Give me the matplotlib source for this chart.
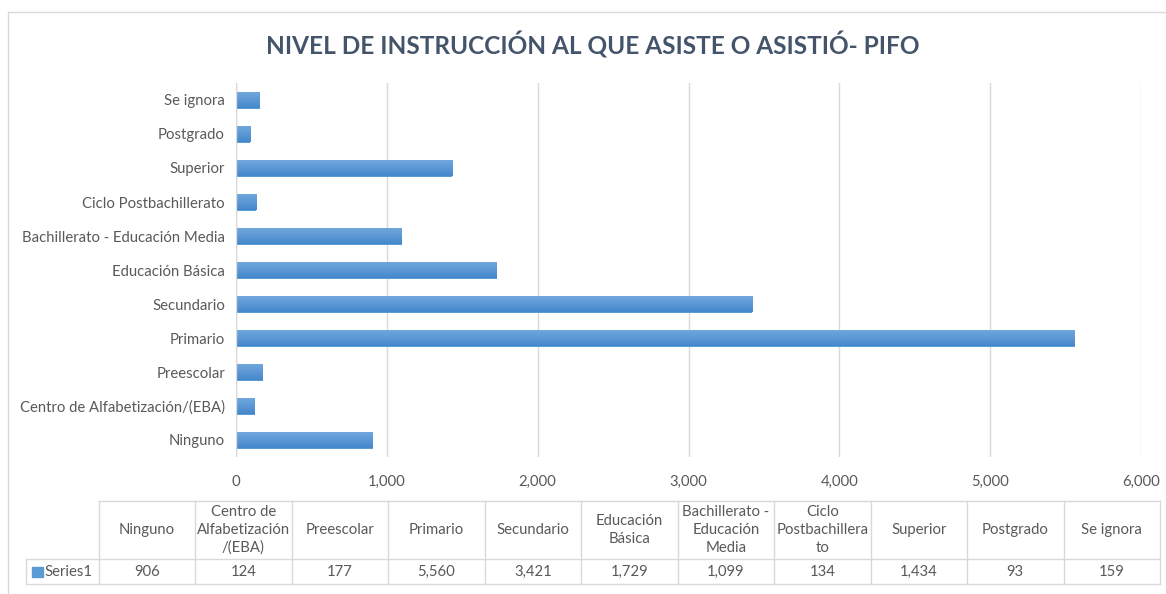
import matplotlib.pyplot as plt
import numpy as np
from matplotlib.patches import Rectangle

categories = ["Ninguno", "Centro de Alfabetización/(EBA)", "Preescolar", "Primario",
              "Secundario", "Educación Básica", "Bachillerato - Educación Media",
              "Ciclo Postbachillerato", "Superior", "Postgrado", "Se ignora"]
table_headers = ["Ninguno", "Centro de\nAlfabetización\n/(EBA)", "Preescolar", "Primario",
                 "Secundario", "Educación\nBásica", "Bachillerato -\nEducación\nMedia",
                 "Ciclo\nPostbachillera\nto", "Superior", "Postgrado", "Se ignora"]
values = [906, 124, 177, 5560, 3421, 1729, 1099, 134, 1434, 93, 159]
series_name = "Series1"
title = "NIVEL DE INSTRUCCIÓN AL QUE ASISTE O ASISTIÓ- PIFO"

W, H = 1166, 594
plt.rcParams['font.family'] = ['Lato', 'DejaVu Sans']
txt = "#595959"
grid = "#D9D9D9"
fs = 10.7

fig = plt.figure(figsize=(W / 100, H / 100), dpi=100)


def fx(x):
    return x / W


def fy(y):
    return 1 - y / H


# chart border (right and bottom edges fall outside the picture)
fig.add_artist(Rectangle((fx(8), fy(600)), fx(1170) - fx(8), fy(12) - fy(600),
                         transform=fig.transFigure, fill=False, edgecolor=grid, lw=1))

ax = fig.add_axes([fx(236), fy(457), fx(1141) - fx(236), fy(83) - fy(457)])
y = np.arange(len(categories))
bars = ax.barh(y, values, height=0.5, color="#5B9BD5")

# gradient fill on each bar
grad = np.linspace(0, 1, 50).reshape(-1, 1)
cmap = plt.matplotlib.colors.LinearSegmentedColormap.from_list("g", ["#72A9DE", "#4688CC"])
for b in bars:
    x0, y0, w, h = b.get_x(), b.get_y(), b.get_width(), b.get_height()
    im = ax.imshow(grad, extent=(x0, x0 + w, y0, y0 + h), origin="lower",
                   cmap=cmap.reversed(), aspect="auto", zorder=3)
    im.set_clip_path(b)
    b.set_edgecolor("none")

ax.set_xlim(0, 6000)
ax.set_ylim(-0.5, len(categories) - 0.5)
ax.set_xticks(range(0, 6001, 1000))
ax.set_xticklabels([f"{v:,}" for v in range(0, 6001, 1000)])
ax.set_yticks(y)
ax.set_yticklabels(categories)
ax.grid(axis="x", color=grid, lw=1)
ax.set_axisbelow(True)
for s in ax.spines.values():
    s.set_visible(False)
ax.axvline(0, color=grid, lw=1, zorder=4)
ax.tick_params(axis="both", length=0, colors=txt, labelsize=fs)
ax.tick_params(axis="x", pad=13)
ax.tick_params(axis="y", pad=8)

fig.text(0.508, fy(45), title, ha="center", va="center", fontsize=17.6,
         fontweight="bold", color="#44546A")

# data table under the axis
left, col_w = 98.5, 96.5
top, mid, bot = 501, 559, 584
lab_left = 26
n = len(categories)
right = left + n * col_w
lk = dict(transform=fig.transFigure, color=grid, lw=1)
fig.add_artist(plt.Line2D([fx(left), fx(right)], [fy(top), fy(top)], **lk))
fig.add_artist(plt.Line2D([fx(lab_left), fx(right)], [fy(mid), fy(mid)], **lk))
fig.add_artist(plt.Line2D([fx(lab_left), fx(right)], [fy(bot), fy(bot)], **lk))
fig.add_artist(plt.Line2D([fx(lab_left), fx(lab_left)], [fy(mid), fy(bot)], **lk))
for i in range(n + 1):
    xx = left + i * col_w
    fig.add_artist(plt.Line2D([fx(xx), fx(xx)], [fy(top), fy(bot)], **lk))
for i, (hd, v) in enumerate(zip(table_headers, values)):
    cx = left + (i + 0.5) * col_w
    fig.text(fx(cx), fy((top + mid) / 2), hd, ha="center", va="center",
             fontsize=fs, color=txt, linespacing=1.35)
    fig.text(fx(cx), fy((mid + bot) / 2), f"{v:,}", ha="center", va="center",
             fontsize=fs, color=txt)
fig.add_artist(Rectangle((fx(32), fy(577)), fx(43) - fx(32), fy(567) - fy(577),
                         transform=fig.transFigure, color="#5B9BD5"))
fig.text(fx(44), fy((mid + bot) / 2), series_name, ha="left", va="center",
         fontsize=fs, color=txt)

fig.savefig("out.png", dpi=100)
